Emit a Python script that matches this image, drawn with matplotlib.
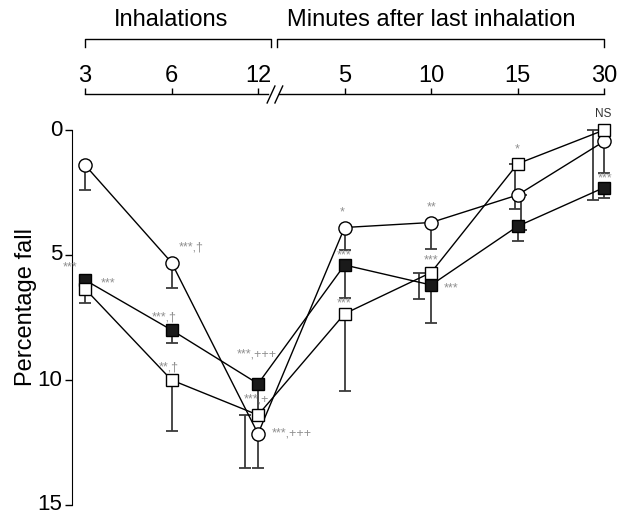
import matplotlib
matplotlib.use("Agg")
import matplotlib.pyplot as plt
import numpy as np

plt.rcParams['font.family'] = ['Liberation Sans', 'DejaVu Sans']

# ---- data ----
time_labels = ['3', '6', '12', '5', '10', '15', '30']
group_labels = ['Inhalations', 'Minutes after last inhalation']

circle_vals = [1.4, 5.3, 12.15, 3.9, 3.7, 2.6, 0.45]
circle_err = [1.0, 1.0, 1.35, 0.9, 1.05, 1.4, 1.25]

filled_vals = [6.0, 8.0, 10.15, 5.4, 6.2, 3.85, 2.3]
filled_err = [0.3, 0.5, 1.2, 1.3, 1.5, 0.6, 0.4]

open_vals = [6.35, 10.0, 11.4, 7.35, 5.7, 1.35, 0.0]
open_err = [0.55, 2.05, 2.1, 3.1, 1.05, 1.8, 2.8]

# annotations: (series, index, text, dx_px, dy_px)
annotations = [
    ('circle', 1, '***,†', 20, 15),
    ('filled', 0, '***', -15, 13),
    ('open', 0, '***', 23, 5),
    ('filled', 1, '***,†', -7, 12),
    ('open', 1, '**,†', -3, 12),
    ('filled', 2, '***,+++', -1, 29),
    ('open', 2, '***,+', -2, 16),
    ('circle', 2, '***,+++', 34, 0),
    ('circle', 3, '*', -2, 15),
    ('filled', 3, '***', -1, 10),
    ('open', 3, '***', -1, 10),
    ('circle', 4, '**', 0, 15),
    ('open', 4, '***', 0, 12),
    ('filled', 4, '***', 20, -3),
    ('open', 5, '*', -1, 14),
    ('filled', 6, '***', 1, 9),
]
ns_label = ('open', 6, 'NS', -1, 16)

# ---- figure ----
fig = plt.figure(figsize=(6.17, 5.17), dpi=100)
ax = fig.add_axes([72 / 617, 8 / 517, 540 / 617, 404 / 517])

x = np.arange(len(time_labels))
# small horizontal offsets of some error bars (style, in x units)
open_err_dx = np.array([0, 0, -0.15, 0, -0.14, -0.035, -0.13])
circle_err_dx = np.array([0, 0, 0, 0, 0, 0.035, 0])

ecol = '#3a3a3a'
for vals, err, dx in [(circle_vals, circle_err, circle_err_dx),
                      (filled_vals, filled_err, np.zeros(7)),
                      (open_vals, open_err, open_err_dx)]:
    ax.errorbar(x + dx, vals, yerr=[np.zeros(7), err], fmt='none',
                ecolor=ecol, elinewidth=1.3, capsize=4.5, capthick=1.3, zorder=2)

ax.plot(x, circle_vals, '-', color='black', lw=1.0, zorder=3)
ax.plot(x, filled_vals, '-', color='black', lw=1.0, zorder=3)
ax.plot(x, open_vals, '-', color='black', lw=1.0, zorder=3)

ax.plot(x, circle_vals, 'o', ms=9.5, mfc='white', mec='black', mew=1.0, zorder=4)
ax.plot(x, filled_vals, 's', ms=8, mfc='#1a1a1a', mec='black', mew=1.0, zorder=4)
ax.plot(x, open_vals, 's', ms=8, mfc='white', mec='black', mew=1.0, zorder=4)

series = {'circle': circle_vals, 'filled': filled_vals, 'open': open_vals}
for s, i, txt, dx, dy in annotations:
    ax.annotate(txt, (x[i], series[s][i]), xytext=(dx, dy), textcoords='offset pixels',
                ha='center', va='center', fontsize=9, color='#8f8f8f', zorder=5)
s, i, txt, dx, dy = ns_label
ax.annotate(txt, (x[i], series[s][i]), xytext=(dx, dy), textcoords='offset pixels',
            ha='center', va='center', fontsize=8.5, color='#333333', zorder=5)

ax.set_xlim(-0.15, 6.09)
ax.set_ylim(15.16, -1.0)

# y axis
ax.spines['left'].set_bounds(0, 15)
ax.spines['right'].set_visible(False)
ax.spines['bottom'].set_visible(False)
ax.set_yticks([0, 5, 10, 15])
ax.tick_params(axis='y', length=5, width=1, pad=2, labelsize=16)
for lbl in ax.get_yticklabels():
    lbl.set_verticalalignment('center')
ax.set_ylabel('Percentage fall', fontsize=17, labelpad=0)

# top axis
y_line = 1.0272
ax.spines['top'].set_position(('axes', y_line))
ax.spines['top'].set_color('none')
ax.set_xticks(x)
ax.set_xticklabels(time_labels)
ax.tick_params(axis='x', top=True, labeltop=True, bottom=False, labelbottom=False,
               length=4, width=1, pad=1, labelsize=17, color='black')

tr = ax.get_xaxis_transform()
brk = (2.12, 2.24)
ax.plot([x[0], brk[0]], [y_line, y_line], color='black', lw=1, transform=tr, clip_on=False)
ax.plot([brk[1], x[-1]], [y_line, y_line], color='black', lw=1, transform=tr, clip_on=False)
for cx in (2.15, 2.24):
    ax.plot([cx - 0.045, cx + 0.045], [1.005, 1.047], color='black', lw=1,
            transform=tr, clip_on=False)

# brackets
yb, yb2 = 1.163, 1.1436
for x0, x1, lab, cx in [(x[0], 2.15, group_labels[0], 1.0),
                        (2.22, x[-1], group_labels[1], 4.0)]:
    ax.plot([x0, x0, x1, x1], [yb2, yb, yb, yb2], color='black', lw=1,
            transform=tr, clip_on=False)
    ax.text(cx, 1.21, lab, transform=tr, ha='center', va='center', fontsize=17)

fig.savefig('out.png', dpi=100)
